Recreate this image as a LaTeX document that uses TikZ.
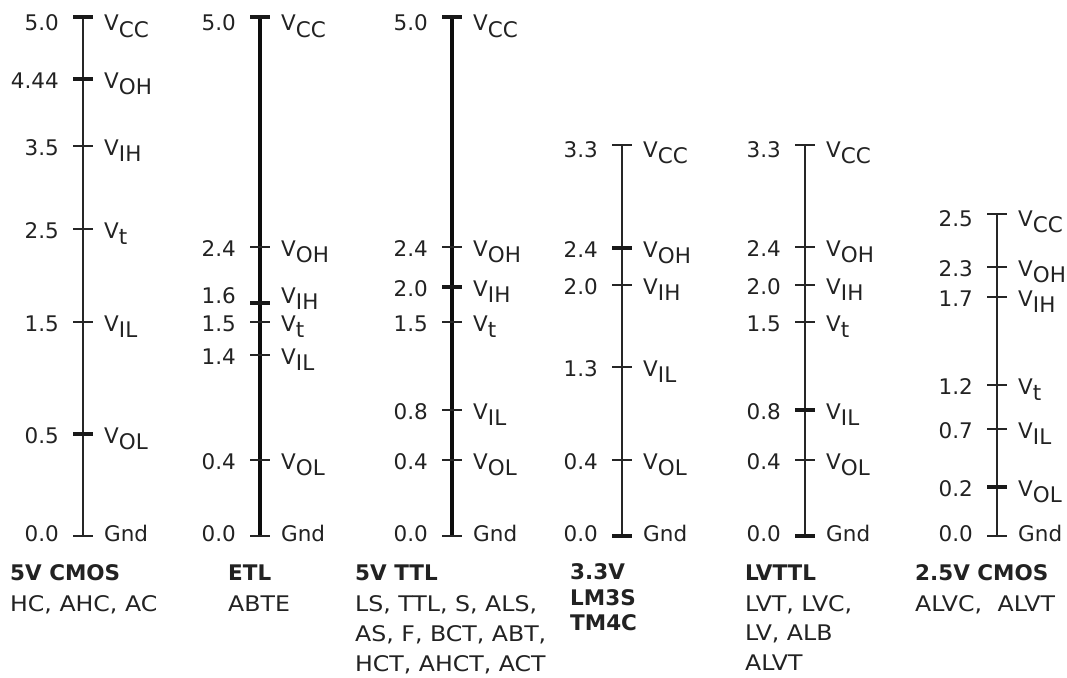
\documentclass[tikz,border=0pt]{standalone}
\usepackage{fontspec}
\setmainfont{DejaVu Sans}
\newfontfamily\widefont[FakeStretch=1.1]{DejaVu Sans}
\usetikzlibrary{calc}
\definecolor{ink}{HTML}{222222}
\newcommand\sbs[1]{\raisebox{-6.5pt}{#1}}
\newcommand\lv[7]{%
  \coordinate (#1) at (#2,#3);
  \draw[#6] ($(#1)+(-10,0)$) -- ($(#1)+(10,0)$);
  \node[txt,anchor=base east] (#1v) at ($(#1)+(-24,#7)$) {#4};
  \node[txt,anchor=base west] (#1l) at ($(#1)+(21,#7)$) {#5};
}
\tikzset{
  txt/.style={inner sep=0pt,text=ink,font=\fontsize{21.5}{26}\selectfont},
  bold/.style={txt,font=\fontsize{21.5}{26}\selectfont\bfseries,anchor=base west},
  plain/.style={txt,font=\widefont\fontsize{21.5}{26}\selectfont,anchor=base west},
  thin/.style={line width=1.5pt,black!85},
  thick/.style={line width=3.2pt,black!90},
  axA/.style={line width=2.3pt,black!85},
  axB/.style={line width=3.6pt,black!95},
  axC/.style={line width=1.8pt,black!85},
}
\begin{document}
\begin{tikzpicture}[x=1pt,y=-1pt]
\useasboundingbox (0,0) rectangle (1067,677);
% column 1: 5V CMOS
\coordinate (a0) at (83,17);
\coordinate (a9) at (83,536);
\draw[axA] (a0) -- (a9);
\lv{a1}{83}{17}{5.0}{V\sbs{CC}}{thick}{14}
\lv{a2}{83}{79}{4.44}{V\sbs{OH}}{thick}{9}
\lv{a3}{83}{146}{3.5}{V\sbs{IH}}{thin}{9}
\lv{a4}{83}{229}{2.5}{V\sbs{t}}{thin}{9}
\lv{a5}{83}{322}{1.5}{V\sbs{IL}}{thin}{9}
\lv{a6}{83}{434}{0.5}{V\sbs{OL}}{thick}{9}
\lv{a7}{83}{536}{0.0}{Gnd}{thin}{5}
\node[bold] (ta1) at (10,580) {5V CMOS};
\node[plain] (ta2) at (10,611) {HC, AHC, AC};
% column 2: ETL
\coordinate (b0) at (260,17);
\coordinate (b9) at (260,536);
\draw[axB] (b0) -- (b9);
\lv{b1}{260}{17}{5.0}{V\sbs{CC}}{thick}{14}
\lv{b2}{260}{247}{2.4}{V\sbs{OH}}{thin}{9}
\lv{b3}{260}{303}{1.6}{V\sbs{IH}}{thick}{0}
\lv{b4}{260}{322}{1.5}{V\sbs{t}}{thin}{9}
\lv{b5}{260}{355}{1.4}{V\sbs{IL}}{thin}{9}
\lv{b6}{260}{460}{0.4}{V\sbs{OL}}{thin}{9}
\lv{b7}{260}{536}{0.0}{Gnd}{thin}{5}
\node[bold] (tb1) at (228,580) {ETL};
\node[plain] (tb2) at (228,611) {ABTE};
% column 3: 5V TTL
\coordinate (c0) at (452,17);
\coordinate (c9) at (452,536);
\draw[axB] (c0) -- (c9);
\lv{c1}{452}{17}{5.0}{V\sbs{CC}}{thick}{14}
\lv{c2}{452}{247}{2.4}{V\sbs{OH}}{thin}{9}
\lv{c3}{452}{287}{2.0}{V\sbs{IH}}{thick}{9}
\lv{c4}{452}{322}{1.5}{V\sbs{t}}{thin}{9}
\lv{c5}{452}{410}{0.8}{V\sbs{IL}}{thin}{9}
\lv{c6}{452}{460}{0.4}{V\sbs{OL}}{thin}{9}
\lv{c7}{452}{536}{0.0}{Gnd}{thin}{5}
\node[bold] (tc1) at (355,580) {5V TTL};
\node[plain] (tc2) at (355,611) {LS, TTL, S, ALS,};
\node[plain] (tc3) at (355,641) {AS, F, BCT, ABT,};
\node[plain] (tc4) at (355,671) {HCT, AHCT, ACT};
% column 4: 3.3V LM3S TM4C
\coordinate (d0) at (622,145);
\coordinate (d9) at (622,536);
\draw[axC] (d0) -- (d9);
\lv{d1}{622}{145}{3.3}{V\sbs{CC}}{thin}{12}
\lv{d2}{622}{248}{2.4}{V\sbs{OH}}{thick}{9}
\lv{d3}{622}{285}{2.0}{V\sbs{IH}}{thin}{9}
\lv{d4}{622}{367}{1.3}{V\sbs{IL}}{thin}{9}
\lv{d5}{622}{460}{0.4}{V\sbs{OL}}{thin}{9}
\lv{d6}{622}{536}{0.0}{Gnd}{thick}{5}
\node[bold] (td1) at (570,579) {3.3V};
\node[bold] (td2) at (570,605) {LM3S};
\node[bold] (td3) at (570,630) {TM4C};
% column 5: LVTTL
\coordinate (e0) at (805,145);
\coordinate (e9) at (805,536);
\draw[axC] (e0) -- (e9);
\lv{e1}{805}{145}{3.3}{V\sbs{CC}}{thin}{12}
\lv{e2}{805}{247}{2.4}{V\sbs{OH}}{thin}{9}
\lv{e3}{805}{285}{2.0}{V\sbs{IH}}{thin}{9}
\lv{e4}{805}{322}{1.5}{V\sbs{t}}{thin}{9}
\lv{e5}{805}{410}{0.8}{V\sbs{IL}}{thick}{9}
\lv{e6}{805}{460}{0.4}{V\sbs{OL}}{thin}{9}
\lv{e7}{805}{536}{0.0}{Gnd}{thick}{5}
\node[bold] (te1) at (745,580) {LVTTL};
\node[plain] (te2) at (745,611) {LVT, LVC,};
\node[plain] (te3) at (745,640) {LV, ALB};
\node[plain] (te4) at (745,670) {ALVT};
% column 6: 2.5V CMOS
\coordinate (f0) at (997,214);
\coordinate (f9) at (997,536);
\draw[axC] (f0) -- (f9);
\lv{f1}{997}{214}{2.5}{V\sbs{CC}}{thin}{12}
\lv{f2}{997}{267}{2.3}{V\sbs{OH}}{thin}{9}
\lv{f3}{997}{297}{1.7}{V\sbs{IH}}{thin}{9}
\lv{f4}{997}{385}{1.2}{V\sbs{t}}{thin}{9}
\lv{f5}{997}{429}{0.7}{V\sbs{IL}}{thin}{9}
\lv{f6}{997}{487}{0.2}{V\sbs{OL}}{thick}{9}
\lv{f7}{997}{536}{0.0}{Gnd}{thin}{5}
\node[bold] (tf1) at (915,580) {2.5V CMOS};
\node[plain] (tf2) at (915,611) {ALVC,\hspace{8pt} ALVT};
\end{tikzpicture}
\end{document}
